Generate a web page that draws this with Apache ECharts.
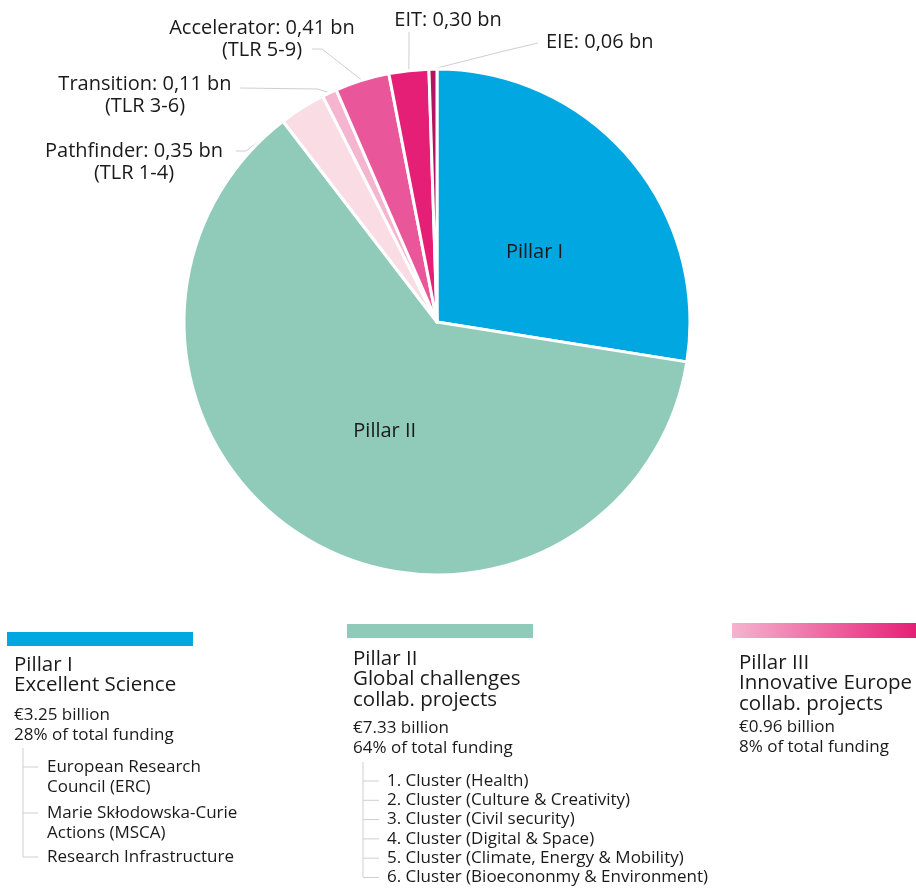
<!DOCTYPE html>
<html>
<head>
<meta charset="utf-8">
<script src="https://cdn.jsdelivr.net/npm/echarts@6/dist/echarts.min.js"></script>
<style>
  html, body { margin: 0; padding: 0; background: #fff; }
  #chart { width: 916px; height: 888px; }
</style>
</head>
<body>
<div id="chart"></div>
<script>
// slices, clockwise from 12 o'clock
const names = ['Pillar I', 'Pillar II', 'Pathfinder', 'Transition', 'Accelerator', 'EIT', 'EIE'];
const values = [3.25, 7.33, 0.35, 0.11, 0.41, 0.30, 0.06];
const labelTexts = ['Pillar I', 'Pillar II', 'Pathfinder: 0,35 bn\n(TLR 1-4)', 'Transition: 0,11 bn\n(TLR 3-6)',
  'Accelerator: 0,41 bn\n(TLR 5-9)', 'EIT: 0,30 bn', 'EIE: 0,06 bn'];
const colors = ['#00A7E1', '#8FCBB8', '#FADCE5', '#F5B4CF', '#E9579A', '#E61F76', '#B3145E'];

// legend blocks under the pie
const pillarTitles = [['Pillar I', 'Excellent Science'], ['Pillar II', 'Global challenges', 'collab. projects'],
  ['Pillar III', 'Innovative Europe', 'collab. projects']];
const pillarAmounts = [['€3.25 billion', '28% of total funding'], ['€7.33 billion', '64% of total funding'],
  ['€0.96 billion', '8% of total funding']];
const pillarItems = [
  ['European Research\nCouncil (ERC)', 'Marie Skłodowska-Curie\nActions (MSCA)', 'Research Infrastructure'],
  ['1. Cluster (Health)', '2. Cluster (Culture & Creativity)', '3. Cluster (Civil security)', '4. Cluster (Digital & Space)',
    '5. Cluster (Climate, Energy & Mobility)', '6. Cluster (Bioecononmy & Environment)']
];

// where the outer labels sit [x, y, align, elbow x, elbow y, end x, end y]
const labelSpots = {
  'Pathfinder': [134, 162, 'center', 246, 151, 236, 151],
  'Transition': [145, 95, 'center', 318, 89, 240, 88],
  'Accelerator': [262, 39, 'center', 322, 49, 312, 49],
  'EIT': [448, 20, 'center', 409, 50, 409, 32],
  'EIE': [546, 42, 'left', 500, 52, 538, 43]
};
// nudges for the two labels inside the pie
const insideNudge = { 'Pillar I': [-1, 14], 'Pillar II': [14, -2] };

const font = '"Open Sans", Lato, sans-serif';
const ink = '#1a1a1a';

const pieData = names.map((n, i) => {
  const d = { name: n, value: values[i], itemStyle: { color: colors[i] } };
  if (i < 2) {
    d.label = { position: 'inside', formatter: labelTexts[i] };
    d.labelLine = { show: false };
  } else {
    d.label = { position: 'outside', formatter: labelTexts[i] };
  }
  return d;
});

const graphics = [];
const cols = [
  { x: 14, bar: [7, 632, 186, 14], titleY: 665, amountY: 715 },
  { x: 353, bar: [347, 624, 186, 14], titleY: 659, amountY: 728 },
  { x: 739, bar: [732, 623, 184, 15], titleY: 663, amountY: 727 }
];
const barFills = [colors[0], colors[1], new echarts.graphic.LinearGradient(0, 0, 1, 0, [
  { offset: 0, color: '#F5B4CF' }, { offset: 1, color: '#E61F76' }])];

cols.forEach((c, k) => {
  graphics.push({ type: 'rect', shape: { x: c.bar[0], y: c.bar[1], width: c.bar[2], height: c.bar[3] },
    style: { fill: barFills[k] } });
  pillarTitles[k].forEach((t, j) => {
    graphics.push({ type: 'text', x: c.x, y: c.titleY + j * 20.5,
      style: { text: t, font: '20.5px ' + font, fill: ink, verticalAlign: 'middle' } });
  });
  pillarAmounts[k].forEach((t, j) => {
    graphics.push({ type: 'text', x: c.x, y: c.amountY + j * 20,
      style: { text: t, font: '17px ' + font, fill: ink, verticalAlign: 'middle' } });
  });
});

// tree under Pillar I
(function () {
  const ys = [767, 813, 857];
  graphics.push({ type: 'line', shape: { x1: 23, y1: 748, x2: 23, y2: 857 }, style: { stroke: '#cfcfcf', lineWidth: 1 } });
  pillarItems[0].forEach((t, j) => {
    graphics.push({ type: 'line', shape: { x1: 23, y1: ys[j], x2: 38, y2: ys[j] }, style: { stroke: '#cfcfcf', lineWidth: 1 } });
    graphics.push({ type: 'text', x: 47, y: ys[j] - 10,
      style: { text: t, font: '17px ' + font, fill: ink, lineHeight: 20, verticalAlign: 'top' } });
  });
})();

// tree under Pillar II
(function () {
  graphics.push({ type: 'line', shape: { x1: 363, y1: 762, x2: 363, y2: 877 }, style: { stroke: '#cfcfcf', lineWidth: 1 } });
  pillarItems[1].forEach((t, j) => {
    const y = 781 + j * 19.3;
    graphics.push({ type: 'line', shape: { x1: 363, y1: y, x2: 379, y2: y }, style: { stroke: '#cfcfcf', lineWidth: 1 } });
    graphics.push({ type: 'text', x: 387, y: y,
      style: { text: t, font: '17px ' + font, fill: ink, verticalAlign: 'middle' } });
  });
})();

const chart = echarts.init(document.getElementById('chart'));
chart.setOption({
  animation: false,
  backgroundColor: '#fff',
  graphic: graphics,
  series: [{
    type: 'pie',
    center: [437, 322],
    radius: [0, 253],
    startAngle: 90,
    clockwise: true,
    avoidLabelOverlap: false,
    data: pieData,
    itemStyle: { borderColor: '#fff', borderWidth: 3 },
    label: { color: ink, fontFamily: font, fontSize: 20, lineHeight: 22 },
    labelLine: { show: true, length: 10, length2: 10, lineStyle: { color: '#cfcfcf', width: 1 } },
    emphasis: { disabled: true },
    labelLayout: function (params) {
      const n = names[params.dataIndex];
      if (insideNudge[n]) return { dx: insideNudge[n][0], dy: insideNudge[n][1] };
      const s = labelSpots[n];
      if (!s || !params.labelLinePoints) return {};
      return {
        x: s[0], y: s[1], align: s[2], verticalAlign: 'middle',
        labelLinePoints: [params.labelLinePoints[0], [s[3], s[4]], [s[5], s[6]]]
      };
    }
  }]
});
</script>
</body>
</html>
